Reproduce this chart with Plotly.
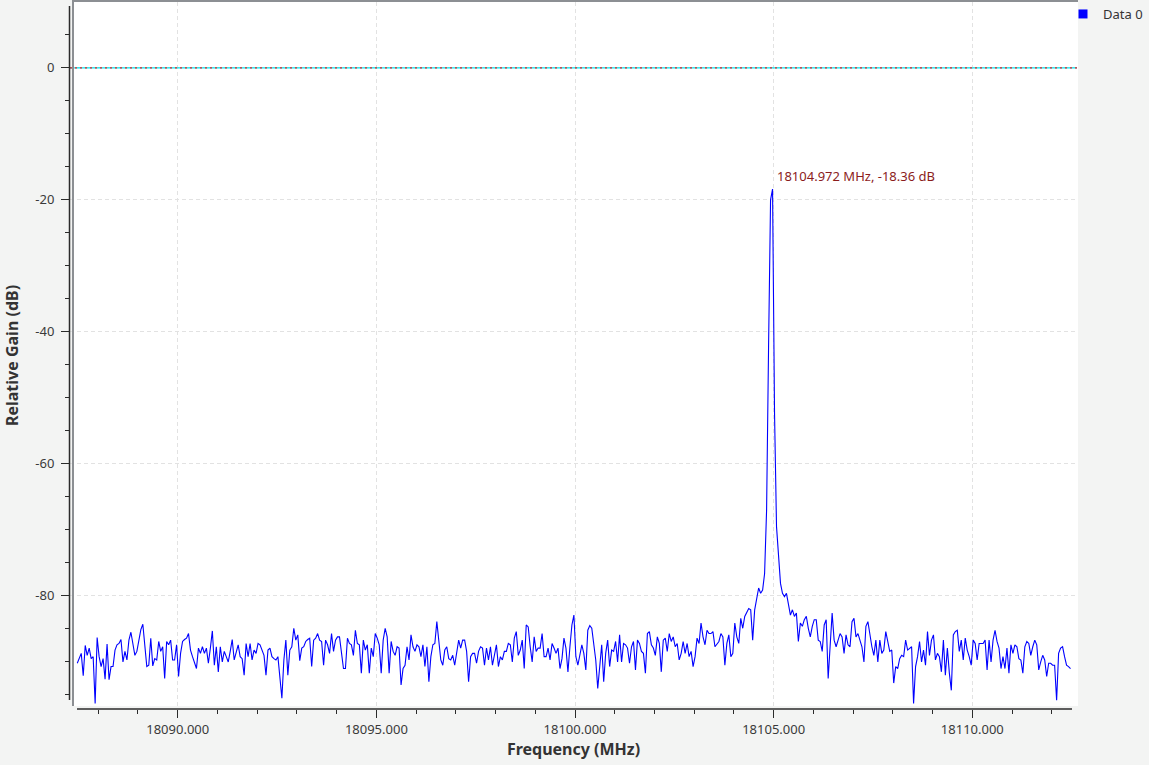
import plotly.graph_objects as go

# ---------------- data ----------------
f_start_mhz = 18087.472   # first FFT bin (MHz)
f_step_mhz = 0.05         # bin spacing (MHz)

gain_db = [
    # 18087.47 .. 18092.42 MHz
    -90.2, -89.5, -88.7, -92.1, -87.5, -89.0, -87.9, -89.5, -89.2, -96.3,
    -86.3, -89.2, -90.7, -89.5, -92.6, -87.3, -92.7, -90.7, -90.7, -88.2,
    -87.4, -87.2, -86.6, -90.0, -88.4, -89.7, -86.7, -85.5, -87.4, -89.0,
    -88.4, -86.4, -85.1, -84.3, -87.9, -90.7, -90.5, -86.4, -90.6, -89.5,
    -89.7, -86.9, -88.4, -87.7, -92.5, -86.9, -87.4, -86.7, -89.7, -89.7,
    -87.4, -92.2, -88.7, -86.9, -86.6, -86.4, -85.7, -88.2, -89.2, -90.2,
    -91.0, -87.9, -88.7, -87.7, -88.7, -87.9, -90.2, -87.9, -85.3, -90.5,
    -87.7, -91.5, -87.7, -90.0, -88.4, -89.2, -90.0, -88.4, -86.6, -89.7,
    -88.4, -87.4, -89.2, -89.5, -92.0, -87.2, -89.2, -87.2, -89.7, -88.2,
    -88.7, -87.2, -87.4, -88.2, -89.0, -92.0, -88.2, -87.9, -89.2, -89.5,
    # 18092.47 .. 18097.42 MHz
    -89.7, -89.2, -92.2, -95.5, -89.7, -86.7, -92.0, -88.2, -87.7, -84.9,
    -86.7, -85.9, -89.8, -87.9, -87.7, -86.9, -86.6, -86.4, -90.7, -86.7,
    -86.4, -85.7, -86.7, -86.9, -90.5, -86.7, -87.4, -88.7, -85.7, -88.4,
    -86.7, -86.2, -86.2, -88.7, -91.0, -91.0, -86.4, -87.2, -87.4, -89.0,
    -85.2, -87.2, -87.4, -91.7, -86.7, -88.2, -87.4, -91.7, -87.9, -89.2,
    -85.7, -86.4, -87.4, -91.7, -86.7, -84.9, -86.2, -91.7, -86.9, -88.4,
    -89.0, -87.7, -87.9, -93.5, -91.0, -90.5, -87.7, -89.7, -85.9, -87.7,
    -88.4, -87.4, -87.7, -89.2, -87.4, -90.7, -87.7, -93.0, -89.2, -87.4,
    -87.2, -83.9, -86.9, -89.7, -90.5, -88.2, -87.7, -89.5, -89.7, -89.0,
    -90.5, -88.7, -86.7, -87.9, -86.7, -86.7, -88.4, -93.0, -89.2, -88.7,
    # 18097.47 .. 18102.42 MHz
    -88.7, -90.2, -88.4, -87.7, -87.9, -90.5, -87.9, -89.7, -87.7, -90.5,
    -88.7, -87.4, -90.7, -89.2, -89.7, -88.4, -88.4, -87.2, -87.4, -90.0,
    -86.4, -85.4, -89.0, -88.2, -86.7, -91.0, -84.4, -84.7, -87.7, -90.0,
    -86.2, -88.4, -87.9, -87.9, -85.7, -89.2, -89.2, -87.9, -89.7, -87.2,
    -87.9, -88.7, -87.9, -91.0, -89.5, -86.4, -87.9, -91.5, -87.7, -84.4,
    -82.9, -89.2, -90.5, -88.7, -87.4, -88.7, -91.2, -85.2, -84.5, -84.9,
    -87.4, -89.7, -94.0, -90.0, -87.4, -93.0, -88.7, -86.7, -90.7, -88.2,
    -88.4, -86.9, -90.0, -85.9, -90.0, -87.2, -87.4, -87.9, -90.2, -87.7,
    -86.9, -91.2, -86.7, -87.2, -88.4, -88.7, -91.7, -85.7, -85.4, -87.4,
    -87.9, -89.0, -86.2, -87.2, -91.5, -86.7, -86.4, -88.4, -85.7, -86.9,
    # 18102.47 .. 18107.42 MHz
    -86.2,
    -87.7, -87.2, -89.7, -88.7, -86.9, -88.7, -87.2, -89.2, -88.4, -90.7,
    -89.2, -86.4, -87.2, -84.1, -86.2, -87.4, -85.2, -85.7, -85.7, -85.4,
    -87.7, -87.2, -86.9, -85.7, -86.2, -90.5, -87.2, -85.9, -89.2, -88.7,
    -84.1, -86.2, -87.2, -83.4, -84.9, -83.1, -82.4, -81.9, -82.1, -86.7,
    -82.1, -80.1, -78.8, -79.6, -79.1, -76.6, -67.0, -42.2, -20.0, -18.36,
    -52.3, -69.5, -74.3, -78.1, -79.6, -80.1, -79.6, -81.1, -82.9, -82.1,
    -83.1, -82.6, -86.9, -84.1, -84.6, -83.6, -83.1, -84.9, -86.2, -84.6,
    -83.6, -83.6, -86.7, -86.9, -88.4, -84.4, -83.6, -92.5, -86.4, -82.6,
    -86.7, -87.7, -86.7, -85.7, -86.2, -88.7, -85.9, -87.4, -87.7, -83.9,
    -83.4, -86.2, -85.7, -86.7, -87.7, -90.0, -84.6, -83.9, -86.2, -87.7,
    # 18107.52 .. 18112.47 MHz
    -89.0, -86.7, -90.0, -86.7, -88.7, -88.2, -85.4, -86.7, -88.4, -88.2,
    -93.2, -90.7, -91.0, -89.5, -89.0, -89.2, -86.7, -88.2, -87.9, -87.7,
    -96.3, -90.7, -89.2, -86.9, -90.0, -88.2, -90.5, -85.4, -89.0, -86.7,
    -85.9, -89.7, -88.7, -89.2, -91.5, -86.7, -92.0, -87.9, -91.7, -94.3,
    -85.9, -85.4, -85.2, -88.4, -86.7, -89.7, -86.4, -88.2, -89.2, -90.5,
    -86.7, -87.2, -89.7, -87.2, -87.2, -87.2, -86.7, -91.2, -86.7, -90.0,
    -86.7, -85.2, -86.9, -87.9, -91.0, -89.2, -91.0, -87.9, -91.7, -87.4,
    -88.7, -87.4, -87.7, -89.5, -89.7, -91.7, -87.7, -86.9, -87.2, -89.0,
    -87.7, -86.7, -87.4, -91.2, -90.0, -89.0, -89.7, -92.2, -90.2, -90.2,
    -90.5, -90.5, -95.8, -88.7, -87.9, -87.7, -89.2, -90.5, -90.7, -91.0,
]
freq_mhz = [round(f_start_mhz + i * f_step_mhz, 3) for i in range(len(gain_db))]

x_range = [18087.289, 18112.635]
y_range = [-97.13, 9.98]
hold_db = [0.0, 0.0]                      # reference (hold) lines at 0 dB
y_tick_vals = [0, -20, -40, -60, -80]
y_tick_text = ["0", "-20", "-40", "-60", "-80"]
series_name = "Data 0"

# ---------------- geometry helpers ----------------
W, H = 1149, 765
L, R, T, B = 70, 72, 2, 56
PW, PH = W - L - R, H - T - B


def px(xp):
    return (xp - L) / PW


def py(yp):
    return (H - B - yp) / PH


FONT = "Noto Sans"
BG = "#f3f4f3"

fig = go.Figure()

# 0 dB hold lines (cyan + red dotted)
fig.add_trace(go.Scatter(x=x_range, y=hold_db, mode="lines",
                         line=dict(color="#00e5ee", width=1.2),
                         showlegend=False, hoverinfo="skip"))
fig.add_trace(go.Scatter(x=x_range, y=hold_db, mode="lines",
                         line=dict(color="#e8202a", width=1.4, dash="2px,3px"),
                         showlegend=False, hoverinfo="skip"))

# spectrum trace
fig.add_trace(go.Scatter(x=freq_mhz, y=gain_db, mode="lines",
                         line=dict(color="#0000ff", width=1.1),
                         name=series_name, showlegend=False))
# legend entry (square marker as in the original)
fig.add_trace(go.Scatter(x=[None], y=[None], mode="markers",
                         marker=dict(symbol="square", size=9, color="#0000ff"),
                         name=series_name, showlegend=True))

# peak marker label
k = max(range(len(gain_db)), key=lambda i: gain_db[i])
fig.add_annotation(x=freq_mhz[k], y=gain_db[k],
                   text=f"{freq_mhz[k]:.3f} MHz, {gain_db[k]:.2f} dB",
                   showarrow=False, xanchor="left", yanchor="middle",
                   xshift=2, yshift=13,
                   font=dict(family=FONT, size=13, color="#8b1c1c"))

shapes = [
    # white canvas
    dict(type="rect", xref="paper", yref="paper", x0=px(74), x1=px(1078),
         y0=py(706), y1=py(2), fillcolor="white", line=dict(width=0), layer="below"),
    # gray frame (left + top)
    dict(type="line", xref="paper", yref="paper", x0=px(73), x1=px(73),
         y0=py(706), y1=py(0), line=dict(color="#8c8f93", width=2), layer="above"),
    dict(type="line", xref="paper", yref="paper", x0=px(72), x1=px(1078),
         y0=py(1), y1=py(1), line=dict(color="#8c8f93", width=2), layer="above"),
    # axis backbones
    dict(type="line", xref="paper", yref="paper", x0=px(69.5), x1=px(69.5),
         y0=py(6), y1=py(700), line=dict(color="#2b2b2b", width=1.5), layer="above"),
    dict(type="line", xref="paper", yref="paper", x0=px(77), x1=px(1072),
         y0=py(709), y1=py(709), line=dict(color="#2b2b2b", width=1.5), layer="above"),
]

fig.update_layout(
    width=W, height=H,
    margin=dict(l=L, r=R, t=T, b=B, autoexpand=False),
    paper_bgcolor=BG, plot_bgcolor=BG,
    font=dict(family=FONT, size=13, color="#3a3a3a"),
    shapes=shapes,
    showlegend=True,
    legend=dict(x=px(1063), y=py(-1), xanchor="left", yanchor="top",
                bgcolor="rgba(0,0,0,0)", font=dict(family=FONT, size=13, color="#333333"),
                itemwidth=30),
    xaxis=dict(
        range=x_range, showline=False, zeroline=False,
        tickmode="linear", tick0=18090, dtick=5, tickformat=".3f",
        ticks="outside", ticklen=8, tickwidth=1.3, tickcolor="#2b2b2b",
        showgrid=True, gridcolor="#e2e2e2", gridwidth=1, griddash="4px,3px",
        minor=dict(tick0=18090, dtick=1, ticks="outside", ticklen=4,
                   tickwidth=1.3, tickcolor="#2b2b2b", showgrid=False),
        tickfont=dict(family=FONT, size=13, color="#3a3a3a"),
        title=dict(text="<b>Frequency (MHz)</b>", standoff=4,
                   font=dict(family=FONT, size=16, color="#333333")),
    ),
    yaxis=dict(
        range=y_range, showline=False, zeroline=False,
        tickmode="array", tickvals=y_tick_vals, ticktext=y_tick_text,
        ticks="outside", ticklen=8, tickwidth=1.3, tickcolor="#2b2b2b",
        ticklabelstandoff=4,
        showgrid=True, gridcolor="#e2e2e2", gridwidth=1, griddash="4px,3px",
        minor=dict(tick0=0, dtick=5, ticks="outside", ticklen=4,
                   tickwidth=1.3, tickcolor="#2b2b2b", showgrid=False),
        tickfont=dict(family=FONT, size=13, color="#3a3a3a"),
        title=dict(text="<b>Relative Gain (dB)</b>", standoff=12,
                   font=dict(family=FONT, size=16, color="#333333")),
    ),
)

page_fix = ("document.body.style.margin='0';"
            "document.body.style.padding='0';"
            "document.body.style.overflow='hidden';"
            "document.body.style.background='" + BG + "';")
fig.write_html("out.html", post_script=page_fix,
               config={"displayModeBar": False})
